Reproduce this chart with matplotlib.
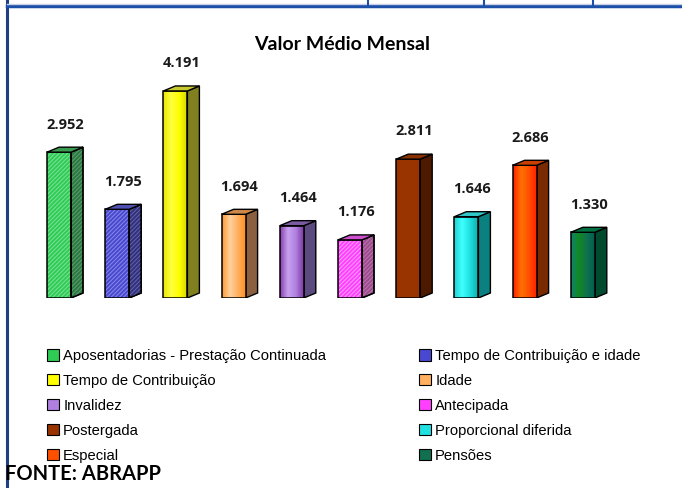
import matplotlib
matplotlib.use('Agg')
import matplotlib.pyplot as plt
import numpy as np
from matplotlib.patches import Polygon, Rectangle, Patch
from matplotlib.colors import LinearSegmentedColormap
from matplotlib import font_manager
from matplotlib.lines import Line2D

categories = ['Aposentadorias - Prestação Continuada', 'Tempo de Contribuição e idade',
              'Tempo de Contribuição', 'Idade', 'Invalidez', 'Antecipada',
              'Postergada', 'Proporcional diferida', 'Especial', 'Pensões']
values = [2952, 1795, 4191, 1694, 1464, 1176, 2811, 1646, 2686, 1330]
value_labels = ['2.952', '1.795', '4.191', '1.694', '1.464', '1.176', '2.811', '1.646', '2.686', '1.330']

# front gradient colours (left -> right), side colour, top colour, hatch flag
front_colors = [
    ['#2ecc55', '#2ecc55'],
    ['#4848d0', '#4848d0'],
    ['#e8e800', '#ffff40', '#ffff00', '#d8d800'],
    ['#ff9a30', '#ffd0a0', '#ffb060', '#ff9020'],
    ['#8a40b0', '#c8a0f0', '#b080e0', '#7a3aa0'],
    ['#ff40ff', '#ff40ff'],
    ['#993300', '#993300'],
    ['#20d0d0', '#40ffff', '#20e0e0', '#10b0b0'],
    ['#ff2000', '#ff7000', '#ff5000', '#ff2000'],
    ['#108070', '#108a20', '#107050', '#006050'],
]
hatch_colors = ['#7fe098', '#8a8ae8', None, None, None, '#ffa0ff', None, None, None, None]
side_colors = ['#2a7a40', '#303080', '#808020', '#8a6040', '#5a4a80', '#a04a90',
               '#4d1a00', '#0a8080', '#7a2a00', '#004a30']
top_colors = ['#3a9a50', '#5050b0', '#c8c830', '#cc8848', '#7a5aa0', '#cc50cc',
              '#883000', '#30c8c8', '#c84000', '#007040']

names = {f.name for f in font_manager.fontManager.ttflist}
narrow = 'Liberation Sans Narrow' if 'Liberation Sans Narrow' in names else 'Liberation Sans'
legend_size = 12 if narrow == 'Liberation Sans Narrow' else 10.6

W, H = 682, 488
fig = plt.figure(figsize=(W / 100, H / 100), dpi=100)

# axes pixel geometry
x_left, x_right, y_bottom, y_top = 20, 640, 298, 40
ax = fig.add_axes([x_left / W, 1 - y_bottom / H, (x_right - x_left) / W, (y_bottom - y_top) / H])
px_per_unit_x = 58.2
px_per_unit_y = 49.4 / 1000
xmin = (x_left - 59) / px_per_unit_x
xmax = (x_right - 59) / px_per_unit_x
ymax = (y_bottom - y_top) / px_per_unit_y
ax.set_xlim(xmin, xmax)
ax.set_ylim(0, ymax)
ax.axis('off')

bw = 24 / px_per_unit_x
dx = 12 / px_per_unit_x
dy = 5 / px_per_unit_y

plt.rcParams['hatch.linewidth'] = 0.7

for i, v in enumerate(values):
    x0, x1 = i - bw / 2, i + bw / 2
    rect = Rectangle((x0, 0), bw, v, facecolor=front_colors[i][0], edgecolor='none', zorder=2)
    ax.add_patch(rect)
    if len(front_colors[i]) > 2 or front_colors[i][0] != front_colors[i][1]:
        cmap = LinearSegmentedColormap.from_list('g%d' % i, front_colors[i])
        img = np.linspace(0, 1, 64).reshape(1, -1)
        im = ax.imshow(img, extent=[x0, x1, 0, v], aspect='auto', cmap=cmap, zorder=2.1)
        im.set_clip_path(rect)
    if hatch_colors[i]:
        ax.add_patch(Rectangle((x0, 0), bw, v, facecolor='none', edgecolor=hatch_colors[i],
                               hatch='////////', linewidth=0, zorder=2.2))
    ax.add_patch(Rectangle((x0, 0), bw, v, facecolor='none', edgecolor='black', linewidth=1.1, zorder=2.5))
    side_pts = [(x1, 0), (x1 + dx, dy), (x1 + dx, v + dy), (x1, v)]
    ax.add_patch(Polygon(side_pts, closed=True, facecolor=side_colors[i], edgecolor='black',
                         linewidth=1.0, zorder=2))
    if hatch_colors[i]:
        ax.add_patch(Polygon(side_pts, closed=True, facecolor='none', edgecolor='#ffffff40',
                             hatch='////////', linewidth=0, zorder=2.2))
        ax.add_patch(Polygon(side_pts, closed=True, facecolor='none', edgecolor='black',
                             linewidth=1.0, zorder=2.5))
    top = Polygon([(x0, v), (x1, v), (x1 + dx, v + dy), (x0 + dx, v + dy)], closed=True,
                  facecolor=top_colors[i], edgecolor='black', linewidth=1.0, zorder=2.5)
    ax.add_patch(top)
    ax.text(i + 0.1, v + 560, value_labels[i], ha='center', va='center',
            fontsize=10.5, fontweight='bold', color='#1a1a1a', family=['Open Sans', 'DejaVu Sans'])

ax.set_xlim(xmin, xmax)
ax.set_ylim(0, ymax)

# title
fig.text(342 / W, 1 - 44 / H, 'Valor Médio Mensal', ha='center', va='center',
         fontsize=14, fontweight='bold', family=['Lato', 'DejaVu Sans'])

# legend (row-wise order in two columns)
handles = [Patch(facecolor=front_colors[i][len(front_colors[i]) // 2], edgecolor='black', linewidth=0.8)
           for i in range(len(categories))]
col1 = [0, 2, 4, 6, 8]
col2 = [1, 3, 5, 7, 9]
for col, xpx in ((col1, 47), (col2, 419)):
    fig.legend([handles[k] for k in col], [categories[k] for k in col],
               loc='upper left', bbox_to_anchor=(xpx / W, 1 - 349 / H),
               frameon=False, handlelength=0.8, handleheight=0.8, handletextpad=0.3,
               labelspacing=0.74, borderpad=0, borderaxespad=0,
               prop={'family': narrow, 'size': legend_size})

fig.text(5 / W, 1 - 474 / H, 'FONTE: ABRAPP', ha='left', va='center', fontsize=14.5,
         fontweight='bold', family=['Lato', 'DejaVu Sans'])

# frame lines (blue table borders)
frame = fig.add_axes([0, 0, 1, 1], zorder=-1)
frame.set_xlim(0, W)
frame.set_ylim(H, 0)
frame.axis('off')
frame.add_line(Line2D([7, 7], [0, H], color='#1f3f80', linewidth=2.2))
frame.add_line(Line2D([7, W], [6, 6], color='#1c50a8', linewidth=2.5))
frame.add_line(Line2D([7, W], [3.5, 3.5], color='#c8d0e8', linewidth=1))
for xv in (368, 484, 593):
    frame.add_line(Line2D([xv, xv], [0, 6], color='#1c50a8', linewidth=1.5))

fig.savefig('out.png', dpi=100)
